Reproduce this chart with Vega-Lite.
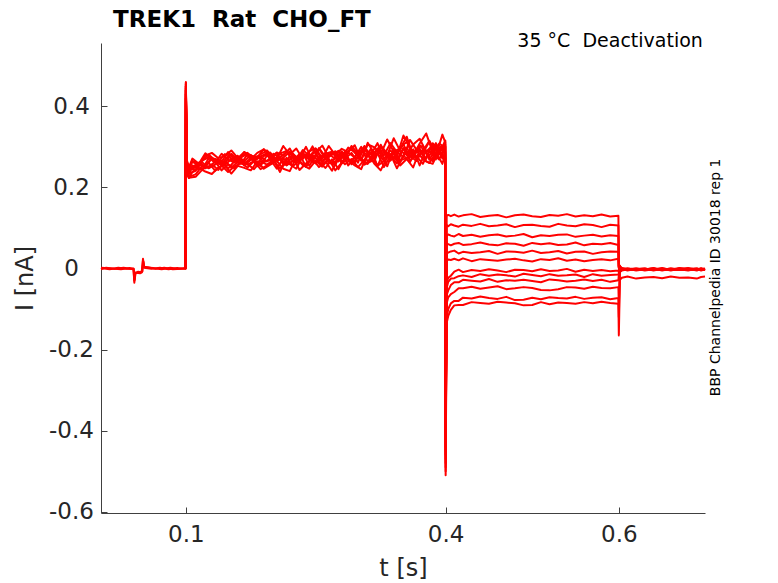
{
  "$schema": "https://vega.github.io/schema/vega-lite/v6.json",
  "width": 604,
  "height": 470,
  "autosize": {"type": "none"},
  "padding": {"left": 101, "top": 43, "right": 73, "bottom": 70},
  "background": "white",
  "config": {
    "view": {"stroke": null},
    "axis": {
      "grid": false,
      "labelFont": "DejaVu Sans",
      "labelFontSize": 23,
      "labelColor": "#262626",
      "titleFont": "DejaVu Sans",
      "titleFontSize": 24,
      "titleFontWeight": "normal",
      "titleColor": "#262626",
      "tickSize": -6,
      "tickColor": "#404040",
      "domainColor": "#404040",
      "labelFlush": false
    }
  },
  "data": {
    "values": [
      {"sw":1,"t":0.002,"I":0.001},{"sw":1,"t":0.012,"I":-0.002},{"sw":1,"t":0.022,"I":0.002},{"sw":1,"t":0.032,"I":-0.001},{"sw":1,"t":0.0395,"I":0},{"sw":1,"t":0.0405,"I":-0.035},{"sw":1,"t":0.0415,"I":-0.012},{"sw":1,"t":0.045,"I":-0.008},{"sw":1,"t":0.049,"I":-0.01},{"sw":1,"t":0.0505,"I":0.024},{"sw":1,"t":0.0515,"I":0.004},{"sw":1,"t":0.056,"I":0.003},{"sw":1,"t":0.065,"I":-0.001},{"sw":1,"t":0.075,"I":0.002},{"sw":1,"t":0.085,"I":-0.002},{"sw":1,"t":0.0995,"I":0},
      {"sw":1,"t":0.1,"I":0.46},{"sw":1,"t":0.1012,"I":0.263},{"sw":1,"t":0.1035,"I":0.251},
      {"sw":1,"t":0.1075,"I":0.265},{"sw":1,"t":0.115,"I":0.258},{"sw":1,"t":0.1225,"I":0.284},{"sw":1,"t":0.13,"I":0.27},{"sw":1,"t":0.1375,"I":0.263},{"sw":1,"t":0.145,"I":0.282},{"sw":1,"t":0.1525,"I":0.278},{"sw":1,"t":0.16,"I":0.263},{"sw":1,"t":0.1675,"I":0.287},{"sw":1,"t":0.175,"I":0.279},{"sw":1,"t":0.1825,"I":0.274},{"sw":1,"t":0.19,"I":0.294},{"sw":1,"t":0.1975,"I":0.273},{"sw":1,"t":0.205,"I":0.286},{"sw":1,"t":0.2125,"I":0.278},{"sw":1,"t":0.22,"I":0.296},{"sw":1,"t":0.2275,"I":0.266},{"sw":1,"t":0.235,"I":0.292},{"sw":1,"t":0.2425,"I":0.278},{"sw":1,"t":0.25,"I":0.287},{"sw":1,"t":0.2575,"I":0.303},{"sw":1,"t":0.265,"I":0.274},{"sw":1,"t":0.2725,"I":0.289},{"sw":1,"t":0.28,"I":0.272},{"sw":1,"t":0.2875,"I":0.298},{"sw":1,"t":0.295,"I":0.287},{"sw":1,"t":0.3025,"I":0.266},{"sw":1,"t":0.31,"I":0.31},{"sw":1,"t":0.3175,"I":0.284},{"sw":1,"t":0.325,"I":0.303},{"sw":1,"t":0.3325,"I":0.279},{"sw":1,"t":0.34,"I":0.321},{"sw":1,"t":0.3475,"I":0.29},{"sw":1,"t":0.355,"I":0.28},{"sw":1,"t":0.3625,"I":0.306},{"sw":1,"t":0.37,"I":0.32},{"sw":1,"t":0.3775,"I":0.288},{"sw":1,"t":0.385,"I":0.304},{"sw":1,"t":0.3925,"I":0.281},{"sw":1,"t":0.3995,"I":0.315},
      {"sw":1,"t":0.4,"I":-0.51},
      {"sw":1,"t":0.4012,"I":0.13},{"sw":1,"t":0.403,"I":0.132},{"sw":1,"t":0.406,"I":0.129},{"sw":1,"t":0.41,"I":0.133},{"sw":1,"t":0.415,"I":0.128},{"sw":1,"t":0.42,"I":0.131},{"sw":1,"t":0.43,"I":0.134},{"sw":1,"t":0.44,"I":0.127},{"sw":1,"t":0.45,"I":0.13},{"sw":1,"t":0.46,"I":0.132},{"sw":1,"t":0.47,"I":0.126},{"sw":1,"t":0.48,"I":0.131},{"sw":1,"t":0.49,"I":0.133},{"sw":1,"t":0.5,"I":0.129},{"sw":1,"t":0.51,"I":0.127},{"sw":1,"t":0.52,"I":0.132},{"sw":1,"t":0.53,"I":0.13},{"sw":1,"t":0.54,"I":0.134},{"sw":1,"t":0.55,"I":0.128},{"sw":1,"t":0.56,"I":0.131},{"sw":1,"t":0.57,"I":0.129},{"sw":1,"t":0.58,"I":0.133},{"sw":1,"t":0.59,"I":0.128},{"sw":1,"t":0.5995,"I":0.13},
      {"sw":1,"t":0.6,"I":0.005},{"sw":1,"t":0.6012,"I":0.006},
      {"sw":1,"t":0.6035,"I":-0.001},{"sw":1,"t":0.61,"I":-0.004},{"sw":1,"t":0.62,"I":-0.002},{"sw":1,"t":0.63,"I":0},{"sw":1,"t":0.64,"I":-0.005},{"sw":1,"t":0.65,"I":-0.001},{"sw":1,"t":0.66,"I":-0.003},{"sw":1,"t":0.67,"I":0},{"sw":1,"t":0.68,"I":-0.002},{"sw":1,"t":0.69,"I":-0.004},{"sw":1,"t":0.695,"I":-0.001},{"sw":1,"t":0.6995,"I":-0.003},

      {"sw":2,"t":0.002,"I":-0.002},{"sw":2,"t":0.008,"I":0.002},{"sw":2,"t":0.018,"I":-0.001},{"sw":2,"t":0.028,"I":0.002},{"sw":2,"t":0.0395,"I":-0.002},{"sw":2,"t":0.0405,"I":-0.03},{"sw":2,"t":0.0415,"I":-0.01},{"sw":2,"t":0.047,"I":-0.012},{"sw":2,"t":0.0495,"I":-0.008},{"sw":2,"t":0.0505,"I":0.02},{"sw":2,"t":0.052,"I":0.002},{"sw":2,"t":0.06,"I":-0.001},{"sw":2,"t":0.07,"I":0.002},{"sw":2,"t":0.08,"I":-0.002},{"sw":2,"t":0.09,"I":0.001},{"sw":2,"t":0.0995,"I":-0.001},
      {"sw":2,"t":0.1,"I":0.44},{"sw":2,"t":0.1012,"I":0.242},{"sw":2,"t":0.1035,"I":0.226},
      {"sw":2,"t":0.11125,"I":0.232},{"sw":2,"t":0.11875,"I":0.253},{"sw":2,"t":0.12625,"I":0.248},{"sw":2,"t":0.13375,"I":0.264},{"sw":2,"t":0.14125,"I":0.242},{"sw":2,"t":0.14875,"I":0.257},{"sw":2,"t":0.15625,"I":0.247},{"sw":2,"t":0.16375,"I":0.266},{"sw":2,"t":0.17125,"I":0.257},{"sw":2,"t":0.17875,"I":0.245},{"sw":2,"t":0.18625,"I":0.264},{"sw":2,"t":0.19375,"I":0.256},{"sw":2,"t":0.20125,"I":0.268},{"sw":2,"t":0.20875,"I":0.238},{"sw":2,"t":0.21625,"I":0.273},{"sw":2,"t":0.22375,"I":0.253},{"sw":2,"t":0.23125,"I":0.265},{"sw":2,"t":0.23875,"I":0.251},{"sw":2,"t":0.24625,"I":0.28},{"sw":2,"t":0.25375,"I":0.263},{"sw":2,"t":0.26125,"I":0.248},{"sw":2,"t":0.26875,"I":0.269},{"sw":2,"t":0.27625,"I":0.245},{"sw":2,"t":0.28375,"I":0.274},{"sw":2,"t":0.29125,"I":0.265},{"sw":2,"t":0.29875,"I":0.286},{"sw":2,"t":0.30625,"I":0.256},{"sw":2,"t":0.31375,"I":0.264},{"sw":2,"t":0.32125,"I":0.285},{"sw":2,"t":0.32875,"I":0.25},{"sw":2,"t":0.33625,"I":0.278},{"sw":2,"t":0.34375,"I":0.259},{"sw":2,"t":0.35125,"I":0.296},{"sw":2,"t":0.35875,"I":0.267},{"sw":2,"t":0.36625,"I":0.277},{"sw":2,"t":0.37375,"I":0.258},{"sw":2,"t":0.38125,"I":0.291},{"sw":2,"t":0.38875,"I":0.269},{"sw":2,"t":0.39625,"I":0.299},{"sw":2,"t":0.3995,"I":0.275},
      {"sw":2,"t":0.4,"I":-0.48},
      {"sw":2,"t":0.4012,"I":0.107},{"sw":2,"t":0.403,"I":0.104},{"sw":2,"t":0.406,"I":0.109},{"sw":2,"t":0.41,"I":0.106},{"sw":2,"t":0.415,"I":0.103},{"sw":2,"t":0.42,"I":0.108},{"sw":2,"t":0.43,"I":0.105},{"sw":2,"t":0.44,"I":0.11},{"sw":2,"t":0.45,"I":0.104},{"sw":2,"t":0.46,"I":0.106},{"sw":2,"t":0.47,"I":0.109},{"sw":2,"t":0.48,"I":0.102},{"sw":2,"t":0.49,"I":0.107},{"sw":2,"t":0.5,"I":0.108},{"sw":2,"t":0.51,"I":0.105},{"sw":2,"t":0.52,"I":0.103},{"sw":2,"t":0.53,"I":0.11},{"sw":2,"t":0.54,"I":0.106},{"sw":2,"t":0.55,"I":0.104},{"sw":2,"t":0.56,"I":0.109},{"sw":2,"t":0.57,"I":0.107},{"sw":2,"t":0.58,"I":0.102},{"sw":2,"t":0.59,"I":0.108},{"sw":2,"t":0.5995,"I":0.106},
      {"sw":2,"t":0.6,"I":0.004},{"sw":2,"t":0.6012,"I":-0.007},
      {"sw":2,"t":0.6035,"I":-0.005},{"sw":2,"t":0.61,"I":-0.002},{"sw":2,"t":0.62,"I":0},{"sw":2,"t":0.63,"I":-0.003},{"sw":2,"t":0.64,"I":-0.001},{"sw":2,"t":0.65,"I":-0.004},{"sw":2,"t":0.66,"I":0},{"sw":2,"t":0.67,"I":-0.002},{"sw":2,"t":0.68,"I":-0.005},{"sw":2,"t":0.69,"I":-0.001},{"sw":2,"t":0.695,"I":-0.003},{"sw":2,"t":0.6995,"I":-0.002},

      {"sw":3,"t":0.002,"I":0.002},{"sw":3,"t":0.015,"I":0},{"sw":3,"t":0.025,"I":-0.002},{"sw":3,"t":0.035,"I":0.001},{"sw":3,"t":0.0398,"I":-0.001},{"sw":3,"t":0.0408,"I":-0.028},{"sw":3,"t":0.042,"I":-0.011},{"sw":3,"t":0.0465,"I":-0.009},{"sw":3,"t":0.0498,"I":-0.007},{"sw":3,"t":0.0508,"I":0.018},{"sw":3,"t":0.052,"I":0.003},{"sw":3,"t":0.062,"I":0.001},{"sw":3,"t":0.072,"I":-0.002},{"sw":3,"t":0.082,"I":0.002},{"sw":3,"t":0.092,"I":-0.001},{"sw":3,"t":0.0995,"I":0.001},
      {"sw":3,"t":0.1,"I":0.45},{"sw":3,"t":0.1012,"I":0.257},{"sw":3,"t":0.1035,"I":0.243},
      {"sw":3,"t":0.1075,"I":0.263},{"sw":3,"t":0.115,"I":0.255},{"sw":3,"t":0.1225,"I":0.253},{"sw":3,"t":0.13,"I":0.272},{"sw":3,"t":0.1375,"I":0.268},{"sw":3,"t":0.145,"I":0.259},{"sw":3,"t":0.1525,"I":0.283},{"sw":3,"t":0.16,"I":0.268},{"sw":3,"t":0.1675,"I":0.264},{"sw":3,"t":0.175,"I":0.28},{"sw":3,"t":0.1825,"I":0.26},{"sw":3,"t":0.19,"I":0.277},{"sw":3,"t":0.1975,"I":0.286},{"sw":3,"t":0.205,"I":0.265},{"sw":3,"t":0.2125,"I":0.273},{"sw":3,"t":0.22,"I":0.288},{"sw":3,"t":0.2275,"I":0.262},{"sw":3,"t":0.235,"I":0.284},{"sw":3,"t":0.2425,"I":0.274},{"sw":3,"t":0.25,"I":0.296},{"sw":3,"t":0.2575,"I":0.265},{"sw":3,"t":0.265,"I":0.28},{"sw":3,"t":0.2725,"I":0.288},{"sw":3,"t":0.28,"I":0.259},{"sw":3,"t":0.2875,"I":0.286},{"sw":3,"t":0.295,"I":0.274},{"sw":3,"t":0.3025,"I":0.3},{"sw":3,"t":0.31,"I":0.263},{"sw":3,"t":0.3175,"I":0.286},{"sw":3,"t":0.325,"I":0.299},{"sw":3,"t":0.3325,"I":0.282},{"sw":3,"t":0.34,"I":0.271},{"sw":3,"t":0.3475,"I":0.299},{"sw":3,"t":0.355,"I":0.312},{"sw":3,"t":0.3625,"I":0.277},{"sw":3,"t":0.37,"I":0.296},{"sw":3,"t":0.3775,"I":0.27},{"sw":3,"t":0.385,"I":0.309},{"sw":3,"t":0.3925,"I":0.292},{"sw":3,"t":0.3995,"I":0.302},
      {"sw":3,"t":0.4,"I":-0.45},
      {"sw":3,"t":0.4012,"I":0.08},{"sw":3,"t":0.403,"I":0.084},{"sw":3,"t":0.406,"I":0.081},{"sw":3,"t":0.41,"I":0.079},{"sw":3,"t":0.415,"I":0.085},{"sw":3,"t":0.42,"I":0.08},{"sw":3,"t":0.43,"I":0.083},{"sw":3,"t":0.44,"I":0.078},{"sw":3,"t":0.45,"I":0.082},{"sw":3,"t":0.46,"I":0.084},{"sw":3,"t":0.47,"I":0.079},{"sw":3,"t":0.48,"I":0.081},{"sw":3,"t":0.49,"I":0.085},{"sw":3,"t":0.5,"I":0.077},{"sw":3,"t":0.51,"I":0.082},{"sw":3,"t":0.52,"I":0.08},{"sw":3,"t":0.53,"I":0.083},{"sw":3,"t":0.54,"I":0.084},{"sw":3,"t":0.55,"I":0.078},{"sw":3,"t":0.56,"I":0.081},{"sw":3,"t":0.57,"I":0.083},{"sw":3,"t":0.58,"I":0.079},{"sw":3,"t":0.59,"I":0.082},{"sw":3,"t":0.5995,"I":0.08},
      {"sw":3,"t":0.6,"I":0.006},{"sw":3,"t":0.6012,"I":0.007},
      {"sw":3,"t":0.6035,"I":-0.002},{"sw":3,"t":0.61,"I":0},{"sw":3,"t":0.62,"I":-0.004},{"sw":3,"t":0.63,"I":-0.001},{"sw":3,"t":0.64,"I":-0.003},{"sw":3,"t":0.65,"I":0.001},{"sw":3,"t":0.66,"I":-0.004},{"sw":3,"t":0.67,"I":-0.002},{"sw":3,"t":0.68,"I":-0.001},{"sw":3,"t":0.69,"I":-0.005},{"sw":3,"t":0.695,"I":0},{"sw":3,"t":0.6995,"I":-0.003},

      {"sw":4,"t":0.0995,"I":0.001},
      {"sw":4,"t":0.1,"I":0.43},{"sw":4,"t":0.1012,"I":0.245},{"sw":4,"t":0.1035,"I":0.234},
      {"sw":4,"t":0.11125,"I":0.241},{"sw":4,"t":0.11875,"I":0.262},{"sw":4,"t":0.12625,"I":0.247},{"sw":4,"t":0.13375,"I":0.256},{"sw":4,"t":0.14125,"I":0.266},{"sw":4,"t":0.14875,"I":0.246},{"sw":4,"t":0.15625,"I":0.265},{"sw":4,"t":0.16375,"I":0.271},{"sw":4,"t":0.17125,"I":0.256},{"sw":4,"t":0.17875,"I":0.265},{"sw":4,"t":0.18625,"I":0.253},{"sw":4,"t":0.19375,"I":0.279},{"sw":4,"t":0.20125,"I":0.262},{"sw":4,"t":0.20875,"I":0.274},{"sw":4,"t":0.21625,"I":0.254},{"sw":4,"t":0.22375,"I":0.266},{"sw":4,"t":0.23125,"I":0.282},{"sw":4,"t":0.23875,"I":0.251},{"sw":4,"t":0.24625,"I":0.277},{"sw":4,"t":0.25375,"I":0.267},{"sw":4,"t":0.26125,"I":0.28},{"sw":4,"t":0.26875,"I":0.258},{"sw":4,"t":0.27625,"I":0.27},{"sw":4,"t":0.28375,"I":0.288},{"sw":4,"t":0.29125,"I":0.257},{"sw":4,"t":0.29875,"I":0.276},{"sw":4,"t":0.30625,"I":0.264},{"sw":4,"t":0.31375,"I":0.296},{"sw":4,"t":0.32125,"I":0.252},{"sw":4,"t":0.32875,"I":0.29},{"sw":4,"t":0.33625,"I":0.281},{"sw":4,"t":0.34375,"I":0.267},{"sw":4,"t":0.35125,"I":0.297},{"sw":4,"t":0.35875,"I":0.278},{"sw":4,"t":0.36625,"I":0.265},{"sw":4,"t":0.37375,"I":0.293},{"sw":4,"t":0.38125,"I":0.278},{"sw":4,"t":0.38875,"I":0.309},{"sw":4,"t":0.39625,"I":0.271},{"sw":4,"t":0.3995,"I":0.286},
      {"sw":4,"t":0.4,"I":-0.42},
      {"sw":4,"t":0.4012,"I":0.062},{"sw":4,"t":0.403,"I":0.06},{"sw":4,"t":0.406,"I":0.057},{"sw":4,"t":0.41,"I":0.061},{"sw":4,"t":0.415,"I":0.063},{"sw":4,"t":0.42,"I":0.058},{"sw":4,"t":0.43,"I":0.06},{"sw":4,"t":0.44,"I":0.064},{"sw":4,"t":0.45,"I":0.059},{"sw":4,"t":0.46,"I":0.057},{"sw":4,"t":0.47,"I":0.062},{"sw":4,"t":0.48,"I":0.061},{"sw":4,"t":0.49,"I":0.056},{"sw":4,"t":0.5,"I":0.063},{"sw":4,"t":0.51,"I":0.06},{"sw":4,"t":0.52,"I":0.062},{"sw":4,"t":0.53,"I":0.058},{"sw":4,"t":0.54,"I":0.059},{"sw":4,"t":0.55,"I":0.064},{"sw":4,"t":0.56,"I":0.057},{"sw":4,"t":0.57,"I":0.061},{"sw":4,"t":0.58,"I":0.06},{"sw":4,"t":0.59,"I":0.063},{"sw":4,"t":0.5995,"I":0.058},
      {"sw":4,"t":0.6,"I":0.003},{"sw":4,"t":0.6012,"I":-0.009},
      {"sw":4,"t":0.6035,"I":0},{"sw":4,"t":0.61,"I":-0.003},{"sw":4,"t":0.62,"I":-0.001},{"sw":4,"t":0.63,"I":-0.005},{"sw":4,"t":0.64,"I":-0.002},{"sw":4,"t":0.65,"I":0},{"sw":4,"t":0.66,"I":-0.003},{"sw":4,"t":0.67,"I":-0.004},{"sw":4,"t":0.68,"I":0},{"sw":4,"t":0.69,"I":-0.002},{"sw":4,"t":0.695,"I":-0.003},{"sw":4,"t":0.6995,"I":-0.001},

      {"sw":5,"t":0.0995,"I":-0.001},
      {"sw":5,"t":0.1,"I":0.455},{"sw":5,"t":0.1012,"I":0.267},{"sw":5,"t":0.1035,"I":0.249},
      {"sw":5,"t":0.1075,"I":0.271},{"sw":5,"t":0.115,"I":0.258},{"sw":5,"t":0.1225,"I":0.278},{"sw":5,"t":0.13,"I":0.285},{"sw":5,"t":0.1375,"I":0.272},{"sw":5,"t":0.145,"I":0.277},{"sw":5,"t":0.1525,"I":0.291},{"sw":5,"t":0.16,"I":0.272},{"sw":5,"t":0.1675,"I":0.287},{"sw":5,"t":0.175,"I":0.269},{"sw":5,"t":0.1825,"I":0.285},{"sw":5,"t":0.19,"I":0.294},{"sw":5,"t":0.1975,"I":0.281},{"sw":5,"t":0.205,"I":0.27},{"sw":5,"t":0.2125,"I":0.302},{"sw":5,"t":0.22,"I":0.281},{"sw":5,"t":0.2275,"I":0.296},{"sw":5,"t":0.235,"I":0.27},{"sw":5,"t":0.2425,"I":0.289},{"sw":5,"t":0.25,"I":0.296},{"sw":5,"t":0.2575,"I":0.272},{"sw":5,"t":0.265,"I":0.302},{"sw":5,"t":0.2725,"I":0.28},{"sw":5,"t":0.28,"I":0.295},{"sw":5,"t":0.2875,"I":0.287},{"sw":5,"t":0.295,"I":0.304},{"sw":5,"t":0.3025,"I":0.267},{"sw":5,"t":0.31,"I":0.306},{"sw":5,"t":0.3175,"I":0.299},{"sw":5,"t":0.325,"I":0.282},{"sw":5,"t":0.3325,"I":0.318},{"sw":5,"t":0.34,"I":0.288},{"sw":5,"t":0.3475,"I":0.296},{"sw":5,"t":0.355,"I":0.325},{"sw":5,"t":0.3625,"I":0.278},{"sw":5,"t":0.37,"I":0.308},{"sw":5,"t":0.3775,"I":0.333},{"sw":5,"t":0.385,"I":0.287},{"sw":5,"t":0.3925,"I":0.308},{"sw":5,"t":0.3995,"I":0.298},
      {"sw":5,"t":0.4,"I":-0.5},
      {"sw":5,"t":0.4012,"I":0.04},{"sw":5,"t":0.403,"I":0.039},{"sw":5,"t":0.406,"I":0.042},{"sw":5,"t":0.41,"I":0.044},{"sw":5,"t":0.415,"I":0.037},{"sw":5,"t":0.42,"I":0.041},{"sw":5,"t":0.43,"I":0.038},{"sw":5,"t":0.44,"I":0.04},{"sw":5,"t":0.45,"I":0.043},{"sw":5,"t":0.46,"I":0.036},{"sw":5,"t":0.47,"I":0.042},{"sw":5,"t":0.48,"I":0.041},{"sw":5,"t":0.49,"I":0.039},{"sw":5,"t":0.5,"I":0.044},{"sw":5,"t":0.51,"I":0.038},{"sw":5,"t":0.52,"I":0.04},{"sw":5,"t":0.53,"I":0.043},{"sw":5,"t":0.54,"I":0.037},{"sw":5,"t":0.55,"I":0.041},{"sw":5,"t":0.56,"I":0.042},{"sw":5,"t":0.57,"I":0.036},{"sw":5,"t":0.58,"I":0.04},{"sw":5,"t":0.59,"I":0.042},{"sw":5,"t":0.5995,"I":0.041},
      {"sw":5,"t":0.6,"I":0.002},{"sw":5,"t":0.6012,"I":0.005},
      {"sw":5,"t":0.6035,"I":-0.003},{"sw":5,"t":0.61,"I":-0.001},{"sw":5,"t":0.62,"I":-0.005},{"sw":5,"t":0.63,"I":-0.002},{"sw":5,"t":0.64,"I":0},{"sw":5,"t":0.65,"I":-0.003},{"sw":5,"t":0.66,"I":-0.001},{"sw":5,"t":0.67,"I":-0.004},{"sw":5,"t":0.68,"I":-0.002},{"sw":5,"t":0.69,"I":0},{"sw":5,"t":0.695,"I":-0.005},{"sw":5,"t":0.6995,"I":-0.002},

      {"sw":6,"t":0.0995,"I":0.002},
      {"sw":6,"t":0.1,"I":0.42},{"sw":6,"t":0.1012,"I":0.235},{"sw":6,"t":0.1035,"I":0.224},
      {"sw":6,"t":0.11125,"I":0.226},{"sw":6,"t":0.11875,"I":0.243},{"sw":6,"t":0.12625,"I":0.261},{"sw":6,"t":0.13375,"I":0.241},{"sw":6,"t":0.14125,"I":0.254},{"sw":6,"t":0.14875,"I":0.238},{"sw":6,"t":0.15625,"I":0.252},{"sw":6,"t":0.16375,"I":0.26},{"sw":6,"t":0.17125,"I":0.249},{"sw":6,"t":0.17875,"I":0.265},{"sw":6,"t":0.18625,"I":0.245},{"sw":6,"t":0.19375,"I":0.254},{"sw":6,"t":0.20125,"I":0.266},{"sw":6,"t":0.20875,"I":0.247},{"sw":6,"t":0.21625,"I":0.26},{"sw":6,"t":0.22375,"I":0.275},{"sw":6,"t":0.23125,"I":0.243},{"sw":6,"t":0.23875,"I":0.259},{"sw":6,"t":0.24625,"I":0.27},{"sw":6,"t":0.25375,"I":0.25},{"sw":6,"t":0.26125,"I":0.264},{"sw":6,"t":0.26875,"I":0.241},{"sw":6,"t":0.27625,"I":0.274},{"sw":6,"t":0.28375,"I":0.257},{"sw":6,"t":0.29125,"I":0.27},{"sw":6,"t":0.29875,"I":0.25},{"sw":6,"t":0.30625,"I":0.268},{"sw":6,"t":0.31375,"I":0.287},{"sw":6,"t":0.32125,"I":0.253},{"sw":6,"t":0.32875,"I":0.265},{"sw":6,"t":0.33625,"I":0.282},{"sw":6,"t":0.34375,"I":0.247},{"sw":6,"t":0.35125,"I":0.279},{"sw":6,"t":0.35875,"I":0.262},{"sw":6,"t":0.36625,"I":0.292},{"sw":6,"t":0.37375,"I":0.269},{"sw":6,"t":0.38125,"I":0.26},{"sw":6,"t":0.38875,"I":0.286},{"sw":6,"t":0.39625,"I":0.258},{"sw":6,"t":0.3995,"I":0.282},
      {"sw":6,"t":0.4,"I":-0.4},
      {"sw":6,"t":0.4012,"I":0.019},{"sw":6,"t":0.403,"I":0.022},{"sw":6,"t":0.406,"I":0.021},{"sw":6,"t":0.41,"I":0.024},{"sw":6,"t":0.415,"I":0.02},{"sw":6,"t":0.42,"I":0.025},{"sw":6,"t":0.43,"I":0.018},{"sw":6,"t":0.44,"I":0.023},{"sw":6,"t":0.45,"I":0.021},{"sw":6,"t":0.46,"I":0.019},{"sw":6,"t":0.47,"I":0.022},{"sw":6,"t":0.48,"I":0.024},{"sw":6,"t":0.49,"I":0.02},{"sw":6,"t":0.5,"I":0.017},{"sw":6,"t":0.51,"I":0.023},{"sw":6,"t":0.52,"I":0.021},{"sw":6,"t":0.53,"I":0.025},{"sw":6,"t":0.54,"I":0.019},{"sw":6,"t":0.55,"I":0.022},{"sw":6,"t":0.56,"I":0.018},{"sw":6,"t":0.57,"I":0.021},{"sw":6,"t":0.58,"I":0.023},{"sw":6,"t":0.59,"I":0.02},{"sw":6,"t":0.5995,"I":0.024},
      {"sw":6,"t":0.6,"I":0.001},{"sw":6,"t":0.6012,"I":-0.006},
      {"sw":6,"t":0.6035,"I":-0.001},{"sw":6,"t":0.61,"I":-0.005},{"sw":6,"t":0.62,"I":-0.001},{"sw":6,"t":0.63,"I":0},{"sw":6,"t":0.64,"I":-0.004},{"sw":6,"t":0.65,"I":-0.002},{"sw":6,"t":0.66,"I":-0.003},{"sw":6,"t":0.67,"I":0.001},{"sw":6,"t":0.68,"I":-0.004},{"sw":6,"t":0.69,"I":-0.001},{"sw":6,"t":0.695,"I":-0.002},{"sw":6,"t":0.6995,"I":-0.004},

      {"sw":7,"t":0.0995,"I":-0.001},
      {"sw":7,"t":0.1,"I":0.445},{"sw":7,"t":0.1012,"I":0.251},{"sw":7,"t":0.1035,"I":0.236},
      {"sw":7,"t":0.1075,"I":0.25},{"sw":7,"t":0.115,"I":0.261},{"sw":7,"t":0.1225,"I":0.25},{"sw":7,"t":0.13,"I":0.272},{"sw":7,"t":0.1375,"I":0.258},{"sw":7,"t":0.145,"I":0.255},{"sw":7,"t":0.1525,"I":0.27},{"sw":7,"t":0.16,"I":0.278},{"sw":7,"t":0.1675,"I":0.254},{"sw":7,"t":0.175,"I":0.268},{"sw":7,"t":0.1825,"I":0.277},{"sw":7,"t":0.19,"I":0.263},{"sw":7,"t":0.1975,"I":0.267},{"sw":7,"t":0.205,"I":0.285},{"sw":7,"t":0.2125,"I":0.256},{"sw":7,"t":0.22,"I":0.277},{"sw":7,"t":0.2275,"I":0.27},{"sw":7,"t":0.235,"I":0.286},{"sw":7,"t":0.2425,"I":0.253},{"sw":7,"t":0.25,"I":0.28},{"sw":7,"t":0.2575,"I":0.261},{"sw":7,"t":0.265,"I":0.283},{"sw":7,"t":0.2725,"I":0.27},{"sw":7,"t":0.28,"I":0.289},{"sw":7,"t":0.2875,"I":0.268},{"sw":7,"t":0.295,"I":0.261},{"sw":7,"t":0.3025,"I":0.288},{"sw":7,"t":0.31,"I":0.28},{"sw":7,"t":0.3175,"I":0.263},{"sw":7,"t":0.325,"I":0.305},{"sw":7,"t":0.3325,"I":0.274},{"sw":7,"t":0.34,"I":0.287},{"sw":7,"t":0.3475,"I":0.261},{"sw":7,"t":0.355,"I":0.297},{"sw":7,"t":0.3625,"I":0.274},{"sw":7,"t":0.37,"I":0.304},{"sw":7,"t":0.3775,"I":0.285},{"sw":7,"t":0.385,"I":0.265},{"sw":7,"t":0.3925,"I":0.298},{"sw":7,"t":0.3995,"I":0.306},
      {"sw":7,"t":0.4,"I":-0.47},
      {"sw":7,"t":0.4012,"I":-0.034},{"sw":7,"t":0.403,"I":-0.023},{"sw":7,"t":0.406,"I":-0.018},{"sw":7,"t":0.41,"I":-0.008},{"sw":7,"t":0.415,"I":-0.003},{"sw":7,"t":0.42,"I":-0.009},{"sw":7,"t":0.43,"I":-0.004},{"sw":7,"t":0.44,"I":-0.006},{"sw":7,"t":0.45,"I":-0.002},{"sw":7,"t":0.46,"I":-0.005},{"sw":7,"t":0.47,"I":-0.009},{"sw":7,"t":0.48,"I":-0.003},{"sw":7,"t":0.49,"I":-0.004},{"sw":7,"t":0.5,"I":-0.007},{"sw":7,"t":0.51,"I":-0.002},{"sw":7,"t":0.52,"I":-0.006},{"sw":7,"t":0.53,"I":-0.005},{"sw":7,"t":0.54,"I":-0.001},{"sw":7,"t":0.55,"I":-0.008},{"sw":7,"t":0.56,"I":-0.003},{"sw":7,"t":0.57,"I":-0.006},{"sw":7,"t":0.58,"I":-0.004},{"sw":7,"t":0.59,"I":-0.007},{"sw":7,"t":0.5995,"I":-0.005},
      {"sw":7,"t":0.6,"I":-0.01},{"sw":7,"t":0.6012,"I":0.006},
      {"sw":7,"t":0.6035,"I":-0.004},{"sw":7,"t":0.61,"I":0},{"sw":7,"t":0.62,"I":-0.002},{"sw":7,"t":0.63,"I":-0.003},{"sw":7,"t":0.64,"I":0.001},{"sw":7,"t":0.65,"I":-0.004},{"sw":7,"t":0.66,"I":-0.002},{"sw":7,"t":0.67,"I":-0.001},{"sw":7,"t":0.68,"I":-0.003},{"sw":7,"t":0.69,"I":-0.004},{"sw":7,"t":0.695,"I":0},{"sw":7,"t":0.6995,"I":-0.001},

      {"sw":8,"t":0.0995,"I":0},
      {"sw":8,"t":0.1,"I":0.45},{"sw":8,"t":0.1012,"I":0.26},{"sw":8,"t":0.1035,"I":0.245},
      {"sw":8,"t":0.11125,"I":0.244},{"sw":8,"t":0.11875,"I":0.266},{"sw":8,"t":0.12625,"I":0.274},{"sw":8,"t":0.13375,"I":0.26},{"sw":8,"t":0.14125,"I":0.283},{"sw":8,"t":0.14875,"I":0.268},{"sw":8,"t":0.15625,"I":0.262},{"sw":8,"t":0.16375,"I":0.275},{"sw":8,"t":0.17125,"I":0.285},{"sw":8,"t":0.17875,"I":0.268},{"sw":8,"t":0.18625,"I":0.276},{"sw":8,"t":0.19375,"I":0.285},{"sw":8,"t":0.20125,"I":0.265},{"sw":8,"t":0.20875,"I":0.283},{"sw":8,"t":0.21625,"I":0.29},{"sw":8,"t":0.22375,"I":0.263},{"sw":8,"t":0.23125,"I":0.282},{"sw":8,"t":0.23875,"I":0.274},{"sw":8,"t":0.24625,"I":0.301},{"sw":8,"t":0.25375,"I":0.271},{"sw":8,"t":0.26125,"I":0.283},{"sw":8,"t":0.26875,"I":0.288},{"sw":8,"t":0.27625,"I":0.264},{"sw":8,"t":0.28375,"I":0.281},{"sw":8,"t":0.29125,"I":0.297},{"sw":8,"t":0.29875,"I":0.276},{"sw":8,"t":0.30625,"I":0.298},{"sw":8,"t":0.31375,"I":0.281},{"sw":8,"t":0.32125,"I":0.309},{"sw":8,"t":0.32875,"I":0.27},{"sw":8,"t":0.33625,"I":0.291},{"sw":8,"t":0.34375,"I":0.276},{"sw":8,"t":0.35125,"I":0.328},{"sw":8,"t":0.35875,"I":0.299},{"sw":8,"t":0.36625,"I":0.27},{"sw":8,"t":0.37375,"I":0.29},{"sw":8,"t":0.38125,"I":0.315},{"sw":8,"t":0.38875,"I":0.283},{"sw":8,"t":0.39625,"I":0.302},{"sw":8,"t":0.3995,"I":0.289},
      {"sw":8,"t":0.4,"I":-0.44},
      {"sw":8,"t":0.4012,"I":-0.048},{"sw":8,"t":0.403,"I":-0.033},{"sw":8,"t":0.406,"I":-0.025},{"sw":8,"t":0.41,"I":-0.024},{"sw":8,"t":0.415,"I":-0.019},{"sw":8,"t":0.42,"I":-0.017},{"sw":8,"t":0.43,"I":-0.021},{"sw":8,"t":0.44,"I":-0.014},{"sw":8,"t":0.45,"I":-0.018},{"sw":8,"t":0.46,"I":-0.015},{"sw":8,"t":0.47,"I":-0.017},{"sw":8,"t":0.48,"I":-0.02},{"sw":8,"t":0.49,"I":-0.013},{"sw":8,"t":0.5,"I":-0.016},{"sw":8,"t":0.51,"I":-0.019},{"sw":8,"t":0.52,"I":-0.014},{"sw":8,"t":0.53,"I":-0.018},{"sw":8,"t":0.54,"I":-0.017},{"sw":8,"t":0.55,"I":-0.015},{"sw":8,"t":0.56,"I":-0.021},{"sw":8,"t":0.57,"I":-0.014},{"sw":8,"t":0.58,"I":-0.018},{"sw":8,"t":0.59,"I":-0.016},{"sw":8,"t":0.5995,"I":-0.015},
      {"sw":8,"t":0.6,"I":-0.012},{"sw":8,"t":0.6012,"I":-0.008},
      {"sw":8,"t":0.6035,"I":-0.002},{"sw":8,"t":0.61,"I":-0.003},{"sw":8,"t":0.62,"I":0},{"sw":8,"t":0.63,"I":-0.004},{"sw":8,"t":0.64,"I":-0.002},{"sw":8,"t":0.65,"I":-0.001},{"sw":8,"t":0.66,"I":-0.005},{"sw":8,"t":0.67,"I":0},{"sw":8,"t":0.68,"I":-0.001},{"sw":8,"t":0.69,"I":-0.003},{"sw":8,"t":0.695,"I":-0.002},{"sw":8,"t":0.6995,"I":0},

      {"sw":9,"t":0.0995,"I":0.001},
      {"sw":9,"t":0.1,"I":0.43},{"sw":9,"t":0.1012,"I":0.241},{"sw":9,"t":0.1035,"I":0.232},
      {"sw":9,"t":0.1075,"I":0.254},{"sw":9,"t":0.115,"I":0.245},{"sw":9,"t":0.1225,"I":0.247},{"sw":9,"t":0.13,"I":0.257},{"sw":9,"t":0.1375,"I":0.243},{"sw":9,"t":0.145,"I":0.266},{"sw":9,"t":0.1525,"I":0.249},{"sw":9,"t":0.16,"I":0.263},{"sw":9,"t":0.1675,"I":0.258},{"sw":9,"t":0.175,"I":0.272},{"sw":9,"t":0.1825,"I":0.252},{"sw":9,"t":0.19,"I":0.263},{"sw":9,"t":0.1975,"I":0.269},{"sw":9,"t":0.205,"I":0.246},{"sw":9,"t":0.2125,"I":0.272},{"sw":9,"t":0.22,"I":0.257},{"sw":9,"t":0.2275,"I":0.246},{"sw":9,"t":0.235,"I":0.278},{"sw":9,"t":0.2425,"I":0.269},{"sw":9,"t":0.25,"I":0.259},{"sw":9,"t":0.2575,"I":0.279},{"sw":9,"t":0.265,"I":0.261},{"sw":9,"t":0.2725,"I":0.255},{"sw":9,"t":0.28,"I":0.287},{"sw":9,"t":0.2875,"I":0.254},{"sw":9,"t":0.295,"I":0.275},{"sw":9,"t":0.3025,"I":0.27},{"sw":9,"t":0.31,"I":0.258},{"sw":9,"t":0.3175,"I":0.286},{"sw":9,"t":0.325,"I":0.277},{"sw":9,"t":0.3325,"I":0.252},{"sw":9,"t":0.34,"I":0.295},{"sw":9,"t":0.3475,"I":0.267},{"sw":9,"t":0.355,"I":0.272},{"sw":9,"t":0.3625,"I":0.294},{"sw":9,"t":0.37,"I":0.254},{"sw":9,"t":0.3775,"I":0.291},{"sw":9,"t":0.385,"I":0.283},{"sw":9,"t":0.3925,"I":0.269},{"sw":9,"t":0.3995,"I":0.301},
      {"sw":9,"t":0.4,"I":-0.38},
      {"sw":9,"t":0.4012,"I":-0.065},{"sw":9,"t":0.403,"I":-0.054},{"sw":9,"t":0.406,"I":-0.041},{"sw":9,"t":0.41,"I":-0.034},{"sw":9,"t":0.415,"I":-0.034},{"sw":9,"t":0.42,"I":-0.028},{"sw":9,"t":0.43,"I":-0.03},{"sw":9,"t":0.44,"I":-0.032},{"sw":9,"t":0.45,"I":-0.026},{"sw":9,"t":0.46,"I":-0.033},{"sw":9,"t":0.47,"I":-0.029},{"sw":9,"t":0.48,"I":-0.03},{"sw":9,"t":0.49,"I":-0.028},{"sw":9,"t":0.5,"I":-0.031},{"sw":9,"t":0.51,"I":-0.034},{"sw":9,"t":0.52,"I":-0.027},{"sw":9,"t":0.53,"I":-0.029},{"sw":9,"t":0.54,"I":-0.032},{"sw":9,"t":0.55,"I":-0.03},{"sw":9,"t":0.56,"I":-0.027},{"sw":9,"t":0.57,"I":-0.031},{"sw":9,"t":0.58,"I":-0.028},{"sw":9,"t":0.59,"I":-0.033},{"sw":9,"t":0.5995,"I":-0.029},
      {"sw":9,"t":0.6,"I":-0.015},{"sw":9,"t":0.6012,"I":0.003},
      {"sw":9,"t":0.6035,"I":0.001},{"sw":9,"t":0.61,"I":-0.002},{"sw":9,"t":0.62,"I":-0.004},{"sw":9,"t":0.63,"I":-0.001},{"sw":9,"t":0.64,"I":-0.003},{"sw":9,"t":0.65,"I":-0.003},{"sw":9,"t":0.66,"I":0},{"sw":9,"t":0.67,"I":-0.004},{"sw":9,"t":0.68,"I":-0.002},{"sw":9,"t":0.69,"I":0},{"sw":9,"t":0.695,"I":-0.004},{"sw":9,"t":0.6995,"I":-0.003},

      {"sw":10,"t":0.0995,"I":-0.002},
      {"sw":10,"t":0.1,"I":0.44},{"sw":10,"t":0.1012,"I":0.254},{"sw":10,"t":0.1035,"I":0.241},
      {"sw":10,"t":0.11125,"I":0.25},{"sw":10,"t":0.11875,"I":0.244},{"sw":10,"t":0.12625,"I":0.271},{"sw":10,"t":0.13375,"I":0.269},{"sw":10,"t":0.14125,"I":0.258},{"sw":10,"t":0.14875,"I":0.277},{"sw":10,"t":0.15625,"I":0.264},{"sw":10,"t":0.16375,"I":0.258},{"sw":10,"t":0.17125,"I":0.282},{"sw":10,"t":0.17875,"I":0.265},{"sw":10,"t":0.18625,"I":0.275},{"sw":10,"t":0.19375,"I":0.264},{"sw":10,"t":0.20125,"I":0.283},{"sw":10,"t":0.20875,"I":0.271},{"sw":10,"t":0.21625,"I":0.255},{"sw":10,"t":0.22375,"I":0.283},{"sw":10,"t":0.23125,"I":0.266},{"sw":10,"t":0.23875,"I":0.279},{"sw":10,"t":0.24625,"I":0.263},{"sw":10,"t":0.25375,"I":0.295},{"sw":10,"t":0.26125,"I":0.271},{"sw":10,"t":0.26875,"I":0.26},{"sw":10,"t":0.27625,"I":0.289},{"sw":10,"t":0.28375,"I":0.271},{"sw":10,"t":0.29125,"I":0.285},{"sw":10,"t":0.29875,"I":0.261},{"sw":10,"t":0.30625,"I":0.302},{"sw":10,"t":0.31375,"I":0.267},{"sw":10,"t":0.32125,"I":0.284},{"sw":10,"t":0.32875,"I":0.294},{"sw":10,"t":0.33625,"I":0.266},{"sw":10,"t":0.34375,"I":0.281},{"sw":10,"t":0.35125,"I":0.306},{"sw":10,"t":0.35875,"I":0.274},{"sw":10,"t":0.36625,"I":0.295},{"sw":10,"t":0.37375,"I":0.303},{"sw":10,"t":0.38125,"I":0.268},{"sw":10,"t":0.38875,"I":0.296},{"sw":10,"t":0.39625,"I":0.281},{"sw":10,"t":0.3995,"I":0.315},
      {"sw":10,"t":0.4,"I":-0.46},
      {"sw":10,"t":0.4012,"I":-0.086},{"sw":10,"t":0.403,"I":-0.071},{"sw":10,"t":0.406,"I":-0.063},{"sw":10,"t":0.41,"I":-0.058},{"sw":10,"t":0.415,"I":-0.049},{"sw":10,"t":0.42,"I":-0.049},{"sw":10,"t":0.43,"I":-0.045},{"sw":10,"t":0.44,"I":-0.05},{"sw":10,"t":0.45,"I":-0.047},{"sw":10,"t":0.46,"I":-0.044},{"sw":10,"t":0.47,"I":-0.051},{"sw":10,"t":0.48,"I":-0.049},{"sw":10,"t":0.49,"I":-0.046},{"sw":10,"t":0.5,"I":-0.048},{"sw":10,"t":0.51,"I":-0.053},{"sw":10,"t":0.52,"I":-0.054},{"sw":10,"t":0.53,"I":-0.051},{"sw":10,"t":0.54,"I":-0.046},{"sw":10,"t":0.55,"I":-0.047},{"sw":10,"t":0.56,"I":-0.05},{"sw":10,"t":0.57,"I":-0.045},{"sw":10,"t":0.58,"I":-0.048},{"sw":10,"t":0.59,"I":-0.049},{"sw":10,"t":0.5995,"I":-0.046},
      {"sw":10,"t":0.6,"I":-0.09},{"sw":10,"t":0.6012,"I":-0.01},
      {"sw":10,"t":0.6035,"I":-0.003},{"sw":10,"t":0.61,"I":-0.004},{"sw":10,"t":0.62,"I":-0.001},{"sw":10,"t":0.63,"I":-0.002},{"sw":10,"t":0.64,"I":0},{"sw":10,"t":0.65,"I":-0.005},{"sw":10,"t":0.66,"I":-0.001},{"sw":10,"t":0.67,"I":-0.002},{"sw":10,"t":0.68,"I":-0.004},{"sw":10,"t":0.69,"I":-0.001},{"sw":10,"t":0.695,"I":0},{"sw":10,"t":0.6995,"I":-0.004},

      {"sw":11,"t":0.0995,"I":0},
      {"sw":11,"t":0.1,"I":0.42},{"sw":11,"t":0.1012,"I":0.233},{"sw":11,"t":0.1035,"I":0.223},
      {"sw":11,"t":0.1075,"I":0.238},{"sw":11,"t":0.115,"I":0.248},{"sw":11,"t":0.1225,"I":0.239},{"sw":11,"t":0.13,"I":0.233},{"sw":11,"t":0.1375,"I":0.249},{"sw":11,"t":0.145,"I":0.255},{"sw":11,"t":0.1525,"I":0.234},{"sw":11,"t":0.16,"I":0.253},{"sw":11,"t":0.1675,"I":0.248},{"sw":11,"t":0.175,"I":0.242},{"sw":11,"t":0.1825,"I":0.264},{"sw":11,"t":0.19,"I":0.246},{"sw":11,"t":0.1975,"I":0.256},{"sw":11,"t":0.205,"I":0.265},{"sw":11,"t":0.2125,"I":0.246},{"sw":11,"t":0.22,"I":0.24},{"sw":11,"t":0.2275,"I":0.273},{"sw":11,"t":0.235,"I":0.255},{"sw":11,"t":0.2425,"I":0.246},{"sw":11,"t":0.25,"I":0.266},{"sw":11,"t":0.2575,"I":0.251},{"sw":11,"t":0.265,"I":0.27},{"sw":11,"t":0.2725,"I":0.242},{"sw":11,"t":0.28,"I":0.261},{"sw":11,"t":0.2875,"I":0.269},{"sw":11,"t":0.295,"I":0.254},{"sw":11,"t":0.3025,"I":0.245},{"sw":11,"t":0.31,"I":0.285},{"sw":11,"t":0.3175,"I":0.259},{"sw":11,"t":0.325,"I":0.242},{"sw":11,"t":0.3325,"I":0.274},{"sw":11,"t":0.34,"I":0.282},{"sw":11,"t":0.3475,"I":0.254},{"sw":11,"t":0.355,"I":0.27},{"sw":11,"t":0.3625,"I":0.249},{"sw":11,"t":0.37,"I":0.292},{"sw":11,"t":0.3775,"I":0.264},{"sw":11,"t":0.385,"I":0.258},{"sw":11,"t":0.3925,"I":0.291},{"sw":11,"t":0.3995,"I":0.272},
      {"sw":11,"t":0.4,"I":-0.35},
      {"sw":11,"t":0.4012,"I":-0.12},{"sw":11,"t":0.403,"I":-0.1},{"sw":11,"t":0.406,"I":-0.086},{"sw":11,"t":0.41,"I":-0.08},{"sw":11,"t":0.415,"I":-0.08},{"sw":11,"t":0.42,"I":-0.072},{"sw":11,"t":0.43,"I":-0.074},{"sw":11,"t":0.44,"I":-0.069},{"sw":11,"t":0.45,"I":-0.073},{"sw":11,"t":0.46,"I":-0.075},{"sw":11,"t":0.47,"I":-0.07},{"sw":11,"t":0.48,"I":-0.078},{"sw":11,"t":0.49,"I":-0.077},{"sw":11,"t":0.5,"I":-0.072},{"sw":11,"t":0.51,"I":-0.076},{"sw":11,"t":0.52,"I":-0.071},{"sw":11,"t":0.53,"I":-0.073},{"sw":11,"t":0.54,"I":-0.074},{"sw":11,"t":0.55,"I":-0.07},{"sw":11,"t":0.56,"I":-0.075},{"sw":11,"t":0.57,"I":-0.072},{"sw":11,"t":0.58,"I":-0.071},{"sw":11,"t":0.59,"I":-0.076},{"sw":11,"t":0.5995,"I":-0.073},
      {"sw":11,"t":0.6,"I":-0.12},{"sw":11,"t":0.6012,"I":0.002},
      {"sw":11,"t":0.6035,"I":0},{"sw":11,"t":0.61,"I":-0.001},{"sw":11,"t":0.62,"I":-0.003},{"sw":11,"t":0.63,"I":-0.004},{"sw":11,"t":0.64,"I":-0.001},{"sw":11,"t":0.65,"I":-0.002},{"sw":11,"t":0.66,"I":-0.004},{"sw":11,"t":0.67,"I":-0.001},{"sw":11,"t":0.68,"I":0.001},{"sw":11,"t":0.69,"I":-0.003},{"sw":11,"t":0.695,"I":-0.004},{"sw":11,"t":0.6995,"I":-0.002},

      {"sw":12,"t":0.0995,"I":0.001},
      {"sw":12,"t":0.1,"I":0.458},{"sw":12,"t":0.1012,"I":0.262},{"sw":12,"t":0.1035,"I":0.245},
      {"sw":12,"t":0.11125,"I":0.251},{"sw":12,"t":0.11875,"I":0.265},{"sw":12,"t":0.12625,"I":0.281},{"sw":12,"t":0.13375,"I":0.267},{"sw":12,"t":0.14125,"I":0.263},{"sw":12,"t":0.14875,"I":0.287},{"sw":12,"t":0.15625,"I":0.268},{"sw":12,"t":0.16375,"I":0.274},{"sw":12,"t":0.17125,"I":0.283},{"sw":12,"t":0.17875,"I":0.266},{"sw":12,"t":0.18625,"I":0.281},{"sw":12,"t":0.19375,"I":0.291},{"sw":12,"t":0.20125,"I":0.27},{"sw":12,"t":0.20875,"I":0.274},{"sw":12,"t":0.21625,"I":0.287},{"sw":12,"t":0.22375,"I":0.281},{"sw":12,"t":0.23125,"I":0.27},{"sw":12,"t":0.23875,"I":0.3},{"sw":12,"t":0.24625,"I":0.266},{"sw":12,"t":0.25375,"I":0.297},{"sw":12,"t":0.26125,"I":0.275},{"sw":12,"t":0.26875,"I":0.281},{"sw":12,"t":0.27625,"I":0.29},{"sw":12,"t":0.28375,"I":0.271},{"sw":12,"t":0.29125,"I":0.302},{"sw":12,"t":0.29875,"I":0.283},{"sw":12,"t":0.30625,"I":0.301},{"sw":12,"t":0.31375,"I":0.266},{"sw":12,"t":0.32125,"I":0.296},{"sw":12,"t":0.32875,"I":0.279},{"sw":12,"t":0.33625,"I":0.309},{"sw":12,"t":0.34375,"I":0.287},{"sw":12,"t":0.35125,"I":0.275},{"sw":12,"t":0.35875,"I":0.317},{"sw":12,"t":0.36625,"I":0.293},{"sw":12,"t":0.37375,"I":0.285},{"sw":12,"t":0.38125,"I":0.313},{"sw":12,"t":0.38875,"I":0.278},{"sw":12,"t":0.39625,"I":0.33},{"sw":12,"t":0.3995,"I":0.311},
      {"sw":12,"t":0.4,"I":-0.49},
      {"sw":12,"t":0.4012,"I":-0.134},{"sw":12,"t":0.403,"I":-0.117},{"sw":12,"t":0.406,"I":-0.102},{"sw":12,"t":0.41,"I":-0.091},{"sw":12,"t":0.415,"I":-0.09},{"sw":12,"t":0.42,"I":-0.09},{"sw":12,"t":0.43,"I":-0.083},{"sw":12,"t":0.44,"I":-0.085},{"sw":12,"t":0.45,"I":-0.087},{"sw":12,"t":0.46,"I":-0.082},{"sw":12,"t":0.47,"I":-0.084},{"sw":12,"t":0.48,"I":-0.086},{"sw":12,"t":0.49,"I":-0.091},{"sw":12,"t":0.5,"I":-0.09},{"sw":12,"t":0.51,"I":-0.083},{"sw":12,"t":0.52,"I":-0.088},{"sw":12,"t":0.53,"I":-0.084},{"sw":12,"t":0.54,"I":-0.085},{"sw":12,"t":0.55,"I":-0.087},{"sw":12,"t":0.56,"I":-0.083},{"sw":12,"t":0.57,"I":-0.086},{"sw":12,"t":0.58,"I":-0.082},{"sw":12,"t":0.59,"I":-0.085},{"sw":12,"t":0.5995,"I":-0.087},
      {"sw":12,"t":0.6,"I":-0.165},{"sw":12,"t":0.6012,"I":-0.028},
      {"sw":12,"t":0.6035,"I":-0.023},{"sw":12,"t":0.61,"I":-0.02},{"sw":12,"t":0.62,"I":-0.025},{"sw":12,"t":0.63,"I":-0.022},{"sw":12,"t":0.64,"I":-0.021},{"sw":12,"t":0.65,"I":-0.024},{"sw":12,"t":0.66,"I":-0.02},{"sw":12,"t":0.67,"I":-0.023},{"sw":12,"t":0.68,"I":-0.022},{"sw":12,"t":0.69,"I":-0.025},{"sw":12,"t":0.695,"I":-0.021},{"sw":12,"t":0.6995,"I":-0.02}
    ]
  },
  "layer": [
    {
      "mark": {"type": "line", "color": "#ff0000", "strokeWidth": 2, "strokeJoin": "round"},
      "encoding": {
        "x": {
          "field": "t",
          "type": "quantitative",
          "scale": {"domain": [0.002, 0.6995], "nice": false, "zero": false},
          "axis": {"title": "t [s]", "values": [0.1, 0.4, 0.6], "format": ".1f", "labelPadding": 16, "titlePadding": 10}
        },
        "y": {
          "field": "I",
          "type": "quantitative",
          "scale": {"domain": [-0.603, 0.556], "nice": false, "zero": false},
          "axis": {
            "title": "I [nA]",
            "values": [-0.6, -0.4, -0.2, 0, 0.2, 0.4],
            "labelExpr": "datum.value == 0 ? '0' : (datum.value < 0 ? '-' : '') + format(abs(datum.value), '.1f')",
            "labelAlign": "center",
            "labelPadding": 36,
            "titlePadding": 11
          }
        },
        "detail": {"field": "sw", "type": "nominal"}
      }
    },
    {
      "data": {"values": [{"label": "TREK1\u00a0\u00a0Rat\u00a0\u00a0CHO_FT"}]},
      "mark": {"type": "text", "align": "left", "baseline": "alphabetic", "font": "DejaVu Sans", "fontSize": 23, "fontWeight": "bold", "color": "black"},
      "encoding": {
        "x": {"datum": 0.0159, "type": "quantitative"},
        "y": {"datum": 0.5955, "type": "quantitative"},
        "text": {"field": "label"}
      }
    },
    {
      "data": {"values": [{"label": "35 °C\u00a0\u00a0Deactivation"}]},
      "mark": {"type": "text", "align": "right", "baseline": "alphabetic", "font": "DejaVu Sans", "fontSize": 19, "color": "black"},
      "encoding": {
        "x": {"datum": 0.697, "type": "quantitative"},
        "y": {"datum": 0.546, "type": "quantitative"},
        "text": {"field": "label"}
      }
    },
    {
      "data": {"values": [{"label": "BBP Channelpedia ID 30018 rep 1"}]},
      "mark": {"type": "text", "angle": 270, "align": "center", "baseline": "middle", "font": "DejaVu Sans", "fontSize": 14, "color": "black"},
      "encoding": {
        "x": {"datum": 0.7122, "type": "quantitative"},
        "y": {"datum": -0.022, "type": "quantitative"},
        "text": {"field": "label"}
      }
    }
  ]
}
